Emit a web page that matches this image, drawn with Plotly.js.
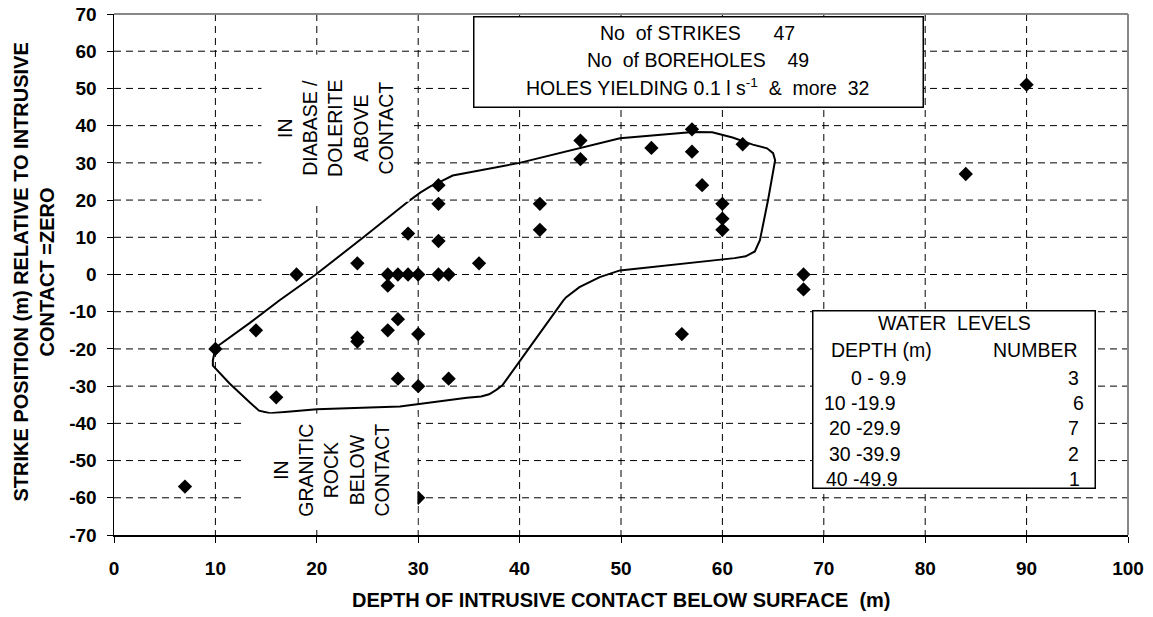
<!DOCTYPE html>
<html>
<head>
<meta charset="utf-8">
<script src="https://cdn.plot.ly/plotly-3.0.1.min.js"></script>
<style>html,body{margin:0;padding:0;background:#fff;}#chart{width:1153px;height:617px;}</style>
</head>
<body>
<div id="chart"></div>
<script>
// ---- data ----
const contactDepth = [7,10,14,16,18,24,24,24,27,27,27,28,28,28,29,29,30,30,30,30,32,32,32,32,33,33,36,42,42,46,46,53,57,57,58,60,60,60,62,56,68,68,84,90];
const strikePosition = [-57,-20,-15,-33,0,3,-17,-18,0,-3,-15,0,-12,-28,11,0,0,-16,-30,-60,24,19,9,0,0,-28,3,19,12,36,31,34,39,33,24,19,15,12,35,-16,0,-4,27,51];

// hand-drawn outline around the main group of strikes
const outlineX = [10,13.4,16.3,19.9,24.6,28.2,29.2,30.2,31.2,32.1,33.4,40,49.9,57.1,59,61,63,64.4,65.0,65.2,64.5,63.7,63.2,62.3,61.2,49.9,47.9,45.9,44.6,44.3,40.7,38.3,37.7,37.0,36.2,34.8,28.2,20,15.4,14.3,13.4,11.4,9.75,9.75,10];
const outlineY = [-19.7,-13,-7,0,10,18,20,22,23.7,24.8,26.6,30,36.6,38.3,38.2,36.8,34.9,33.9,32.6,30.7,20,9.2,6.2,4.9,4.4,1.1,-0.7,-3.4,-6.1,-7,-20.5,-29.8,-31.0,-32.2,-32.8,-33.1,-35.5,-36.2,-37.3,-36.6,-34.4,-29.3,-24.5,-23.1,-19.7];

const xTickValues = [0,10,20,30,40,50,60,70,80,90,100];
const xTickLabels = ['0','10','20','30','40','50','60','70','80','90','100'];
const yTickValues = [-70,-60,-50,-40,-30,-20,-10,0,10,20,30,40,50,60,70];
const yTickLabels = ['-70','-60','-50','-40','-30','-20','-10','0','10','20','30','40','50','60','70'];

const strikesCount = 47;
const boreholesCount = 49;
const yieldingHolesCount = 32;

const waterDepthRanges = ['0 - 9.9','10 -19.9','20 -29.9','30 -39.9','40 -49.9'];
const waterLevelCounts = [3,6,7,2,1];

// ---- chart ----
const FONT = 'Liberation Sans, Arial, Helvetica, sans-serif';
const NB = '\u00a0';
const W = 1153, H = 617;
const M = {l: 114, r: 25, t: 14, b: 82};
const X_RANGE = [0, 100], Y_RANGE = [-70, 70];
const pxPerX = (W - M.l - M.r) / (X_RANGE[1] - X_RANGE[0]);
const pxPerY = (H - M.t - M.b) / (Y_RANGE[1] - Y_RANGE[0]);

// dashed grid lines at the tick positions, built as short solid pieces (7px dash, 5px gap)
const DASH = 7, GAP = 5;
const gX = [], gY = [];
xTickValues.slice(1, -1).forEach(v => {
  const d = DASH / pxPerY, p = (DASH + GAP) / pxPerY;
  for (let y = Y_RANGE[1]; y > Y_RANGE[0]; y -= p) { gX.push(v, v, null); gY.push(y, Math.max(y - d, Y_RANGE[0]), null); }
});
yTickValues.slice(1, -1).forEach(v => {
  const d = DASH / pxPerX, p = (DASH + GAP) / pxPerX;
  for (let x = X_RANGE[0]; x < X_RANGE[1]; x += p) { gX.push(x, Math.min(x + d, X_RANGE[1]), null); gY.push(v, v, null); }
});

const traces = [
  {x: gX, y: gY, type: 'scatter', mode: 'lines', line: {color: '#000', width: 1}, hoverinfo: 'skip'},
  {x: outlineX, y: outlineY, type: 'scatter', mode: 'lines', line: {color: '#000', width: 2}},
  {x: contactDepth, y: strikePosition, type: 'scatter', mode: 'markers',
   marker: {symbol: 'diamond', size: 11, color: '#000'}}
];

function axisBase() {
  return {
    showgrid: false,
    showline: true, linecolor: '#000', linewidth: 1.5,
    ticks: 'outside', ticklen: 6, tickcolor: '#000',
    zeroline: false, tickmode: 'array',
    tickfont: {family: FONT, size: 19, color: '#000', weight: 'bold'}
  };
}

const annotations = [];
// white boxes (drawn first, so the texts sit on top of them)
function panel(cx, cy, wpx, hpx, border, text, extra) {
  annotations.push(Object.assign({x: cx, y: cy, xref: 'x', yref: 'y', text: text || NB, showarrow: false,
    width: wpx, height: hpx, bgcolor: '#fff', bordercolor: border ? '#000' : 'rgba(0,0,0,0)',
    borderwidth: border ? 1.5 : 0, borderpad: 0, xanchor: 'center', yanchor: 'middle',
    font: {family: FONT, size: 19.5, color: '#000'}}, extra || {}));
}
panel(57.64, 57.05, 448, 89, true);
panel(82.84, -33.6, 281, 176, true);

function txt(x, y, text, opts) {
  annotations.push(Object.assign({x: x, y: y, xref: 'x', yref: 'y', text: text, showarrow: false,
    font: {family: FONT, size: 19.5, color: '#000'}, xanchor: 'center', yanchor: 'middle'}, opts || {}));
}

// statistics box
txt(57.56, 65.0, 'No' + NB + ' of STRIKES' + NB.repeat(5) + ' ' + strikesCount);
txt(57.56, 57.7, 'No' + NB + ' of BOREHOLES' + NB.repeat(3) + ' ' + boreholesCount);
txt(57.56, 50.4, 'HOLES YIELDING 0.1 l s<sup>-1</sup>' + NB + ' &' + NB + ' more' + NB + ' ' + yieldingHolesCount);

// water levels box
txt(82.9, -13.1, 'WATER' + NB + ' LEVELS');
txt(70.5, -20.4, 'DEPTH (m)', {xanchor: 'left'});
txt(95.25, -20.4, 'NUMBER', {xanchor: 'right'});
const rowY = [-27.7, -34.4, -41.2, -48.2, -54.9];
const rowLeft = [72.45, 69.8, 70.3, 70.3, 70.0];
const rowRight = [95.4, 95.9, 95.4, 95.4, 95.5];
waterDepthRanges.forEach((r, i) => {
  txt(rowLeft[i], rowY[i], r, {xanchor: 'left'});
  txt(rowRight[i], rowY[i], String(waterLevelCounts[i]), {xanchor: 'right'});
});

// rotated region labels on white backgrounds (width/height are before the rotation)
panel(21.8, 39.2, 147, 148, false, 'IN<br>DIABASE /<br>DOLERITE<br>ABOVE<br>CONTACT', {textangle: -90});
panel(21.4, -52.7, 113, 172, false, 'IN<br>GRANITIC<br>ROCK<br>BELOW<br>CONTACT', {textangle: -90});

// axis titles
const TFONT = {family: FONT, size: 20, color: '#000', weight: 'bold'};
annotations.push({xref: 'paper', yref: 'paper', x: 0.5, y: 0, yshift: -65, xanchor: 'center', yanchor: 'middle',
  showarrow: false, text: 'DEPTH OF INTRUSIVE CONTACT BELOW SURFACE' + NB + ' (m)', font: TFONT});
annotations.push({xref: 'paper', yref: 'paper', x: 0, xshift: -94, y: 0.5, yshift: 2, xanchor: 'center', yanchor: 'middle',
  showarrow: false, textangle: -90, text: 'STRIKE POSITION (m) RELATIVE TO INTRUSIVE', font: TFONT});
annotations.push({xref: 'paper', yref: 'paper', x: 0, xshift: -68, y: 0.5, yshift: 2, xanchor: 'center', yanchor: 'middle',
  showarrow: false, textangle: -90, text: 'CONTACT =ZERO', font: TFONT});

// grey frame on the top and right sides of the plot area
const shapes = [
  {type: 'line', xref: 'paper', yref: 'paper', x0: 0, x1: 1, y0: 1, y1: 1, line: {color: '#888', width: 2}, layer: 'above'},
  {type: 'line', xref: 'paper', yref: 'paper', x0: 1, x1: 1, y0: 0, y1: 1, line: {color: '#888', width: 2}, layer: 'above'}
];

const xa = axisBase(); xa.range = X_RANGE; xa.tickvals = xTickValues; xa.ticktext = xTickLabels; xa.ticklabelstandoff = 10;
const ya = axisBase(); ya.range = Y_RANGE; ya.tickvals = yTickValues; ya.ticktext = yTickLabels; ya.ticklabelstandoff = 6;

const layout = {
  width: W, height: H,
  margin: M,
  paper_bgcolor: '#fff', plot_bgcolor: '#fff',
  showlegend: false,
  xaxis: xa, yaxis: ya,
  shapes: shapes,
  annotations: annotations
};

Plotly.newPlot('chart', traces, layout, {staticPlot: true});
</script>
</body>
</html>
